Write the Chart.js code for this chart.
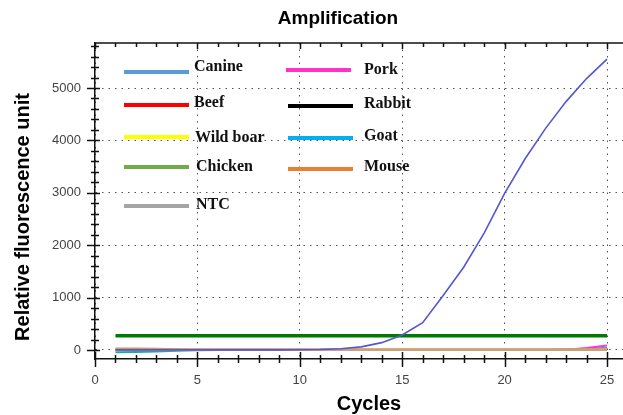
<!DOCTYPE html>
<html>
<head>
<meta charset="utf-8">
<title>Amplification</title>
<script src="https://cdn.jsdelivr.net/npm/chart.js@4.4.1/dist/chart.umd.min.js"></script>
<style>
  body { margin: 0; background: #fff; }
  #wrap { position: relative; width: 623px; height: 415px; }
  #c { position: absolute; left: 0; top: 0; }
  .lg { position: absolute; height: 4px; width: 65px; }
  .lt { position: absolute; font: bold 16px "Liberation Serif", "Times New Roman", serif; color: #111; line-height: 18px; white-space: nowrap; }
</style>
</head>
<body>
<div id="wrap">
  <canvas id="c" width="623" height="415"></canvas>
</div>
<script>
// cycle numbers
const cycles = [1, 2, 3, 4, 5, 6, 7, 8, 9, 10, 11, 12, 13, 14, 15, 16, 17, 18, 19, 20, 21, 22, 23, 24, 25];

// fluorescence per sample
const canine   = [2, 2, 2, 2, 2, 2, 2, 2, 3, 5, 10, 25, 60, 140, 285, 520, 1040, 1580, 2230, 2990, 3650, 4230, 4740, 5180, 5550];
const pork     = [0, 0, 0, 0, 0, 0, 0, 0, 0, 0, 0, 0, 0, 0, 0, 0, 0, 0, 0, 0, 0, 0, 5, 40, 85];
const beef     = [6, 6, 5, 5, 5, 5, 5, 5, 5, 5, 5, 5, 5, 5, 5, 5, 5, 5, 5, 5, 5, 6, 7, 9, 12];
const rabbit   = [2, 2, 2, 2, 2, 2, 2, 2, 2, 2, 2, 2, 2, 2, 2, 2, 2, 2, 2, 2, 2, 2, 3, 5, 8];
const wildBoar = [10, 10, 8, 6, 5, 5, 5, 5, 5, 5, 5, 5, 5, 5, 5, 5, 5, 5, 5, 5, 5, 5, 5, 6, 8];
const goat     = [-45, -38, -28, -14, -6, -2, 0, 0, 0, 0, 0, 0, 0, 0, 0, 0, 0, 0, 0, 0, 0, 2, 8, 22, 40];
const chicken  = [4, 4, 4, 4, 4, 4, 4, 4, 4, 4, 4, 4, 4, 4, 4, 4, 4, 4, 4, 4, 4, 4, 5, 6, 8];
const mouse    = [30, 28, 22, 12, 9, 8, 8, 8, 8, 8, 8, 8, 8, 8, 8, 8, 8, 8, 8, 8, 8, 8, 9, 11, 14];
const ntc      = [3, 3, 3, 3, 3, 3, 3, 3, 3, 3, 3, 3, 3, 3, 3, 3, 3, 3, 3, 3, 3, 3, 3, 4, 5];

// threshold line
const thresholdX = [1, 25];
const thresholdY = [272, 272];

// axis ticks
const xTicks = [0, 5, 10, 15, 20, 25];
const yTicks = [0, 1000, 2000, 3000, 4000, 5000];

const chartTitle = 'Amplification';
const xTitle = 'Cycles';
const yTitle = 'Relative fluorescence unit';

// legend (overlay, two columns)
const legendNames  = ['Canine', 'Beef', 'Wild boar', 'Chicken', 'NTC', 'Pork', 'Rabbit', 'Goat', 'Mouse'];
const legendColors = ['#5b9bd5', '#ff0000', '#ffff00', '#70ad47', '#a5a5a5', '#ff33cc', '#000000', '#00b0f0', '#ed7d31'];
const legendLineX  = [124, 124, 124, 124, 124, 286, 288, 288, 288];
const legendLineY  = [72, 105, 137, 167, 206, 70, 106, 138, 169];
const legendTextX  = [194, 194, 195, 196, 196, 364, 364, 364, 364];
const legendTextY  = [66, 102, 137, 166, 204, 69, 103, 135, 166];

const wrap = document.getElementById('wrap');
legendNames.forEach((n, i) => {
  const l = document.createElement('div');
  l.className = 'lg';
  l.style.left = legendLineX[i] + 'px';
  l.style.top = (legendLineY[i] - 2) + 'px';
  l.style.background = legendColors[i];
  wrap.appendChild(l);
  const t = document.createElement('div');
  t.className = 'lt';
  t.textContent = n;
  t.style.left = legendTextX[i] + 'px';
  t.style.top = (legendTextY[i] - 9) + 'px';
  wrap.appendChild(t);
});

const pts = (xs, ys) => xs.map((c, i) => ({ x: c, y: ys[i] }));
const line = (label, xs, ys, color, width, order) => ({
  label, data: pts(xs, ys), borderColor: color, backgroundColor: color,
  borderWidth: width, pointRadius: 0, tension: 0, order
});

// axis decorations: ticks crossing the axes, top frame, titles
const frame = {
  id: 'frame',
  afterDraw(chart) {
    const { ctx, chartArea: a, scales: { x, y } } = chart;
    ctx.save();
    ctx.strokeStyle = '#111';
    ctx.lineWidth = 1.5;
    ctx.beginPath();
    ctx.moveTo(a.left, a.top);
    ctx.lineTo(a.right, a.top);
    ctx.stroke();
    ctx.beginPath();
    for (let c = 0; c <= 25; c++) {
      const px = Math.round(x.getPixelForValue(c)) + 0.5;
      const major = c % 5 === 0;
      ctx.moveTo(px, a.bottom - (major ? 7 : 4));
      ctx.lineTo(px, a.bottom + (major ? 8 : 4));
      ctx.moveTo(px, a.top);
      ctx.lineTo(px, a.top + (major ? 6 : 4));
    }
    for (let v = 0; v <= 5800; v += 200) {
      const py = Math.round(y.getPixelForValue(v)) + 0.5;
      const major = v % 1000 === 0;
      ctx.moveTo(a.left - (major ? 8 : 4), py);
      ctx.lineTo(a.left + (major ? 5 : 4), py);
    }
    ctx.stroke();

    ctx.fillStyle = '#000';
    ctx.textAlign = 'center';
    ctx.textBaseline = 'middle';
    ctx.font = 'bold 19px "Liberation Sans", Arial, sans-serif';
    ctx.fillText(chartTitle, 338, 19);
    ctx.font = 'bold 20px "Liberation Sans", Arial, sans-serif';
    ctx.fillText(xTitle, 369, 404);
    ctx.translate(23, 217);
    ctx.rotate(-Math.PI / 2);
    ctx.fillText(yTitle, 0, 0);
    ctx.restore();
  }
};

const tickFont = { size: 13, family: '"Liberation Sans", Arial, sans-serif' };
const noPad = s => { s.paddingLeft = 0; s.paddingRight = 0; s.paddingTop = 0; s.paddingBottom = 0; };

new Chart(document.getElementById('c'), {
  type: 'line',
  data: {
    datasets: [
      line('Canine', cycles, canine, '#5656cf', 1.6, 0),
      line('Threshold', thresholdX, thresholdY, '#007a00', 3.5, 1),
      line('Beef', cycles, beef, '#c4a47c', 2, 3),
      line('Mouse', cycles, mouse, '#f08a40', 2, 4),
      line('Wild boar', cycles, wildBoar, '#c8b890', 2, 5),
      line('Rabbit', cycles, rabbit, '#b0a090', 2, 6),
      line('Chicken', cycles, chicken, '#a8a878', 2, 7),
      line('NTC', cycles, ntc, '#a8a090', 2, 8),
      line('Pork', cycles, pork, '#ff33dd', 2, 9),
      line('Goat', cycles, goat, '#20a8a8', 2, 10)
    ]
  },
  options: {
    responsive: false,
    animation: false,
    layout: { padding: { left: 0, right: 0, top: 43, bottom: 0 } },
    plugins: { legend: { display: false }, title: { display: false }, tooltip: { enabled: false } },
    scales: {
      x: {
        type: 'linear', min: 0, max: 25.78,
        afterBuildTicks: s => { s.ticks = xTicks.map(v => ({ value: v })); },
        afterFit: s => { s.height = 56; noPad(s); },
        grid: { color: '#555', lineWidth: 1, drawTicks: false },
        border: { display: true, color: '#111', width: 1.5, dash: [1.5, 5] },
        ticks: { padding: 14, color: '#444', font: tickFont, maxRotation: 0, callback: v => String(v) }
      },
      y: {
        type: 'linear', min: -172, max: 5859,
        afterBuildTicks: s => { s.ticks = yTicks.map(v => ({ value: v })); },
        afterFit: s => { s.width = 95; noPad(s); },
        grid: { color: '#555', lineWidth: 1, drawTicks: false },
        border: { display: true, color: '#111', width: 1.5, dash: [1.5, 5] },
        ticks: { padding: 14, color: '#444', font: tickFont, callback: v => String(v) }
      }
    }
  },
  plugins: [frame]
});
</script>
</body>
</html>
